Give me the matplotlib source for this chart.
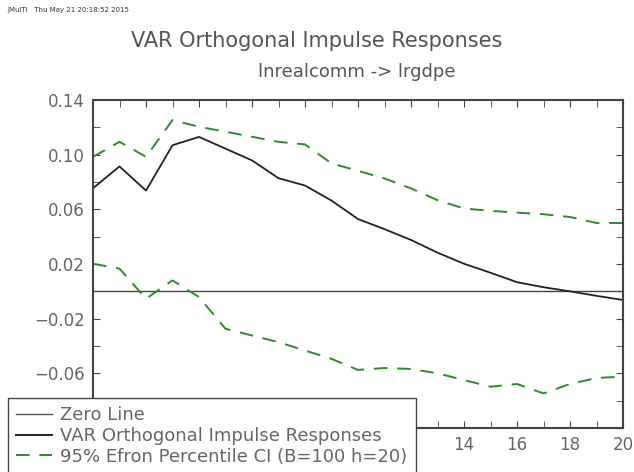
import numpy as np
import matplotlib
matplotlib.use("Agg")
import matplotlib.pyplot as plt
from matplotlib.lines import Line2D
from matplotlib.ticker import MultipleLocator, FixedLocator

# horizon and estimated responses
horizon = np.arange(0, 21)
response = [0.0754, 0.0914, 0.0737, 0.1069, 0.1130, 0.1044, 0.0958, 0.0828,
            0.0774, 0.0664, 0.0529, 0.0455, 0.0376, 0.0283, 0.0202, 0.0136,
            0.0067, 0.0030, 0.0000, -0.0033, -0.0063]
ci_upper = [0.0984, 0.1094, 0.0984, 0.1253, 0.1204, 0.1168, 0.1131, 0.1094,
            0.1075, 0.0936, 0.0882, 0.0826, 0.0753, 0.0667, 0.0606, 0.0589,
            0.0576, 0.0564, 0.0544, 0.0500, 0.0500]
ci_lower = [0.0202, 0.0166, -0.0054, 0.0080, -0.0042, -0.0274, -0.0323, -0.0372,
            -0.0433, -0.0494, -0.0575, -0.0561, -0.0568, -0.0600, -0.0649, -0.0698,
            -0.0678, -0.0747, -0.0678, -0.0634, -0.0624]
y_ticks = [-0.10, -0.06, -0.02, 0.02, 0.06, 0.10, 0.14]
x_ticks = list(range(0, 21, 2))

txt = '#666666'
green = '#2e8b2e'

fig = plt.figure(figsize=(6.34, 4.72), dpi=100)
ax = fig.add_axes([93/634, 1-428/472, 530/634, 328/472])

ax.axhline(0, color='#444444', lw=1.0)
ax.plot(horizon, response, color='#222222', lw=1.3)
ax.plot(horizon, ci_upper, color=green, lw=1.4, dashes=(7, 5))
ax.plot(horizon, ci_lower, color=green, lw=1.4, dashes=(7, 5))

ax.set_xlim(0, 20)
ax.set_ylim(-0.10, 0.14)
ax.xaxis.set_major_locator(FixedLocator(x_ticks))
ax.xaxis.set_minor_locator(MultipleLocator(1))
ax.yaxis.set_major_locator(FixedLocator(y_ticks))
ax.yaxis.set_minor_locator(MultipleLocator(0.02))
# labels under the legend box are not visible in the original
ax.set_xticklabels([str(v) if v >= 14 else '' for v in x_ticks])
ax.set_yticklabels([f'{v:.2f}'.replace('-', '\u2212') if v > -0.09 else ''
                    for v in y_ticks])
ax.tick_params(which='both', direction='in', top=True, right=True,
               color='#444444', labelcolor=txt, labelsize=12, pad=6)
ax.tick_params(which='both', length=5)
for s in ax.spines.values():
    s.set_color('#444444')
    s.set_linewidth(1.5)

fig.text(0.012, 0.985, 'JMulTi   Thu May 21 20:18:52 2015', fontsize=5,
         color='#333333', va='top')
fig.text(317/634, 1-41/472, 'VAR Orthogonal Impulse Responses', fontsize=15,
         color='#555555', ha='center', va='center')
fig.text(357/634, 1-72/472, 'lnrealcomm -> lrgdpe', fontsize=13,
         color='#555555', ha='center', va='center')

handles = [Line2D([], [], color='#555555', lw=1.0),
           Line2D([], [], color='#222222', lw=1.4),
           Line2D([], [], color=green, lw=1.4, dashes=(7, 5))]
labels = ['Zero Line', 'VAR Orthogonal Impulse Responses',
          '95% Efron Percentile CI (B=100 h=20)']
leg = fig.legend(handles, labels, loc='upper left',
                 bbox_to_anchor=(8/634, 1-398/472), fancybox=False,
                 framealpha=1, edgecolor='#444444', fontsize=13,
                 labelcolor=txt, handlelength=2.0, handletextpad=0.45,
                 borderpad=0.45, labelspacing=0.15, borderaxespad=0)
leg.get_frame().set_linewidth(1.0)

fig.savefig('out.png', dpi=100)
